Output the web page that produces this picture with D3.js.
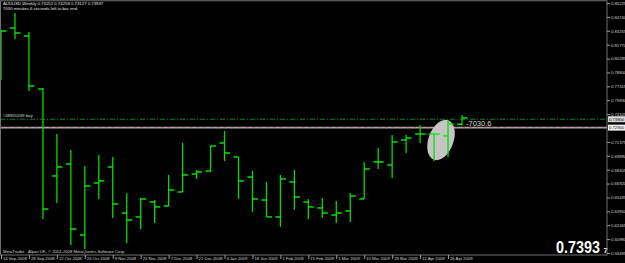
<!DOCTYPE html>
<html>
<head>
<meta charset="utf-8">
<script src="https://cdn.jsdelivr.net/npm/d3@7"></script>
<style>
  html, body { margin: 0; padding: 0; background: #000; }
  svg { display: block; font-family: "Liberation Sans", Arial, sans-serif; }
</style>
</head>
<body>
<div id="chart"></div>
<script>
// weekly AUDUSD bars, 14 Sep 2008 .. 3 May 2009
const opens  = [0.7906, 0.8355, 0.8270, 0.7703, 0.6773, 0.6901, 0.6142, 0.6698, 0.6869, 0.6377, 0.6335, 0.6495,
                0.6452, 0.6602, 0.6794, 0.6826, 0.7126, 0.6976, 0.6762, 0.6516, 0.6335, 0.6709, 0.6495, 0.6431,
                0.6356, 0.6399, 0.6527, 0.6923, 0.6891, 0.7158, 0.7222, 0.7222, 0.7201, 0.73252];
const highs  = [0.8334, 0.8516, 0.8312, 0.7714, 0.7222, 0.7051, 0.6880, 0.6998, 0.6976, 0.6591, 0.6538, 0.6516,
                0.6784, 0.7126, 0.6837, 0.7094, 0.7254, 0.6976, 0.6826, 0.6709, 0.6784, 0.6837, 0.6527, 0.6538,
                0.6506, 0.6591, 0.6923, 0.7072, 0.7211, 0.7211, 0.7318, 0.7222, 0.7361, 0.74258];
const lows   = [0.7799, 0.8238, 0.7682, 0.6313, 0.6484, 0.6035, 0.5993, 0.6527, 0.6324, 0.6057, 0.6206, 0.6271,
                0.6452, 0.6602, 0.6741, 0.6816, 0.6933, 0.6527, 0.6388, 0.6335, 0.6228, 0.6410, 0.6313, 0.6324,
                0.6271, 0.6281, 0.6527, 0.6848, 0.6752, 0.7019, 0.7126, 0.6933, 0.6976, 0.73127];
const closes = [0.8323, 0.8302, 0.7735, 0.6420, 0.6869, 0.6206, 0.6666, 0.6720, 0.6474, 0.6303, 0.6527, 0.6442,
                0.6623, 0.6784, 0.6816, 0.7094, 0.7019, 0.6720, 0.6527, 0.6335, 0.6741, 0.6549, 0.6442, 0.6377,
                0.6377, 0.6559, 0.6848, 0.6923, 0.7137, 0.7179, 0.7222, 0.7222, 0.7329, 0.73937];

const dateLabels = ["14 Sep 2008", "28 Sep 2008", "12 Oct 2008", "26 Oct 2008", "9 Nov 2008", "23 Nov 2008",
                    "7 Dec 2008", "21 Dec 2008", "4 Jan 2009", "18 Jan 2009", "1 Feb 2009", "15 Feb 2009",
                    "1 Mar 2009", "15 Mar 2009", "29 Mar 2009", "12 Apr 2009", "26 Apr 2009"];

// the 0.72860 level sits under the price boxes, so it is not labelled
const priceTicks = [0.86225, 0.84740, 0.83255, 0.81770, 0.80285, 0.78800, 0.77315, 0.75830, 0.74345,
                    0.71375, 0.69890, 0.68405, 0.66920, 0.65435, 0.63950, 0.62465, 0.60980, 0.59495];

const orderPrice = 0.73800;   // "#48820269 buy" line
const bidPrice = 0.72900;     // grey line with red dashes
const bidLast = "0.73937";

const width = 625, height = 263;
const plotRight = 607, plotBottom = 255;

const svg = d3.select("#chart")
    .append("svg")
    .attr("width", width)
    .attr("height", height);

svg.append("rect").attr("width", width).attr("height", height).attr("fill", "#000");

const x = d3.scaleLinear().domain([0, 33]).range([1, 462]);
const y = d3.scaleLinear().domain([0.59495, 0.86225]).range([253, 3]);

const bars = opens.map((o, i) => ({i: i, o: o, h: highs[i], l: lows[i], c: closes[i]}));

// order line and bid line
svg.append("line")
    .attr("x1", 0).attr("x2", plotRight)
    .attr("y1", y(orderPrice)).attr("y2", y(orderPrice))
    .attr("stroke", "#0a8a0a")
    .attr("stroke-width", 1)
    .attr("stroke-dasharray", "5,2,1,2");

svg.append("line")
    .attr("x1", 0).attr("x2", plotRight)
    .attr("y1", y(bidPrice)).attr("y2", y(bidPrice))
    .attr("stroke", "#a8a8a8")
    .attr("stroke-width", 1.6);
svg.append("line")
    .attr("x1", 0).attr("x2", plotRight)
    .attr("y1", y(bidPrice)).attr("y2", y(bidPrice))
    .attr("stroke", "#d07070")
    .attr("stroke-width", 0.8)
    .attr("stroke-dasharray", "3,4");

svg.append("text")
    .attr("x", 3).attr("y", y(orderPrice) - 2)
    .attr("font-size", 4.3)
    .attr("fill", "#d8d8d8")
    .text("#48820269 buy");

// ellipse drawn on the chart
svg.append("ellipse")
    .attr("cx", 441).attr("cy", 140)
    .attr("rx", 12.5).attr("ry", 21)
    .attr("transform", "rotate(20,441,140)")
    .attr("fill", "#c4c4c4");

// OHLC bars
const g = svg.append("g").attr("stroke", "#00dc00");

g.selectAll(".hl")
    .data(bars)
    .join("line")
    .attr("class", "hl")
    .attr("x1", d => x(d.i)).attr("x2", d => x(d.i))
    .attr("y1", d => y(d.h)).attr("y2", d => y(d.l))
    .attr("stroke-width", 1.3);

g.selectAll(".op")
    .data(bars)
    .join("line")
    .attr("class", "op")
    .attr("x1", d => x(d.i) - 5).attr("x2", d => x(d.i))
    .attr("y1", d => y(d.o)).attr("y2", d => y(d.o))
    .attr("stroke", "#00f000")
    .attr("stroke-width", 1.4);

g.selectAll(".cl")
    .data(bars)
    .join("line")
    .attr("class", "cl")
    .attr("x1", d => x(d.i)).attr("x2", d => x(d.i) + 5.5)
    .attr("y1", d => y(d.c)).attr("y2", d => y(d.c))
    .attr("stroke", "#00f000")
    .attr("stroke-width", 1.4);

// profit label next to the last bar
svg.append("text")
    .attr("x", 466).attr("y", 126)
    .attr("font-size", 7.5)
    .attr("fill", "#d8d8d8")
    .text("-7030.6");

// titles
svg.append("text")
    .attr("x", 3).attr("y", 5)
    .attr("font-size", 4.3)
    .attr("fill", "#e0e0e0")
    .text("AUDUSD,Weekly  0.73252 0.74258 0.73127 0.73937");
svg.append("text")
    .attr("x", 3).attr("y", 10)
    .attr("font-size", 4.3)
    .attr("fill", "#e0e0e0")
    .text("7030 minutes 6 seconds left to bar end");

svg.append("text")
    .attr("x", 3).attr("y", 253)
    .attr("font-size", 4.2)
    .attr("fill", "#d0d0d0")
    .text("MetaTrader - Alpari UK, \u00a9 2001-2008 MetaQuotes Software Corp.");

// big last price
svg.append("text")
    .attr("transform", "translate(556,253) scale(0.87,1)")
    .attr("font-size", 16.5)
    .attr("font-weight", "bold")
    .attr("fill", "#ffffff")
    .text(bidLast.slice(0, 6));
svg.append("text")
    .attr("x", 603.5).attr("y", 253)
    .attr("font-size", 7.5)
    .attr("font-weight", "bold")
    .attr("fill", "#ffffff")
    .text(bidLast.slice(6));

// borders
svg.append("rect")
    .attr("x", 0.5).attr("y", 0.75)
    .attr("width", plotRight - 0.5).attr("height", plotBottom - 0.75)
    .attr("fill", "none")
    .attr("stroke", "#707070")
    .attr("stroke-width", 1);

// price axis
const yAxis = svg.append("g")
    .attr("transform", `translate(${plotRight},0)`)
    .call(d3.axisRight(y).tickValues(priceTicks).tickSize(3).tickSizeOuter(0).tickPadding(1)
        .tickFormat(d3.format(".5f")));
yAxis.select(".domain").remove();
yAxis.selectAll(".tick line").attr("stroke", "#a0a0a0");
yAxis.selectAll(".tick text")
    .attr("fill", "#d0d0d0")
    .attr("font-size", 4.2)
    .attr("font-family", "Liberation Sans, Arial, sans-serif");

// price boxes on the axis
const boxes = [{p: orderPrice, fill: "#d8d8d8"}, {p: bidPrice, fill: "#f0f0f0"}];
boxes.forEach(b => {
    svg.append("rect")
        .attr("x", plotRight + 1).attr("y", y(b.p) - 3)
        .attr("width", 17).attr("height", 6)
        .attr("fill", b.fill);
    svg.append("text")
        .attr("x", plotRight + 2).attr("y", y(b.p) + 1.5)
        .attr("font-size", 4.2)
        .attr("fill", "#000")
        .text(d3.format(".5f")(b.p));
});

// time axis
const xAxis = svg.append("g")
    .attr("transform", `translate(0,${plotBottom})`)
    .call(d3.axisBottom(x).tickValues(dateLabels.map((d, i) => i * 2)).tickSize(4).tickSizeOuter(0)
        .tickFormat((d, i) => dateLabels[i]));
xAxis.select(".domain").remove();
xAxis.selectAll(".tick line").attr("stroke", "#a0a0a0");
xAxis.selectAll(".tick text")
    .attr("fill", "#d0d0d0")
    .attr("font-size", 4.2)
    .attr("font-family", "Liberation Sans, Arial, sans-serif")
    .attr("text-anchor", "start")
    .attr("dx", 1.5)
    .attr("y", 2);
</script>
</body>
</html>
